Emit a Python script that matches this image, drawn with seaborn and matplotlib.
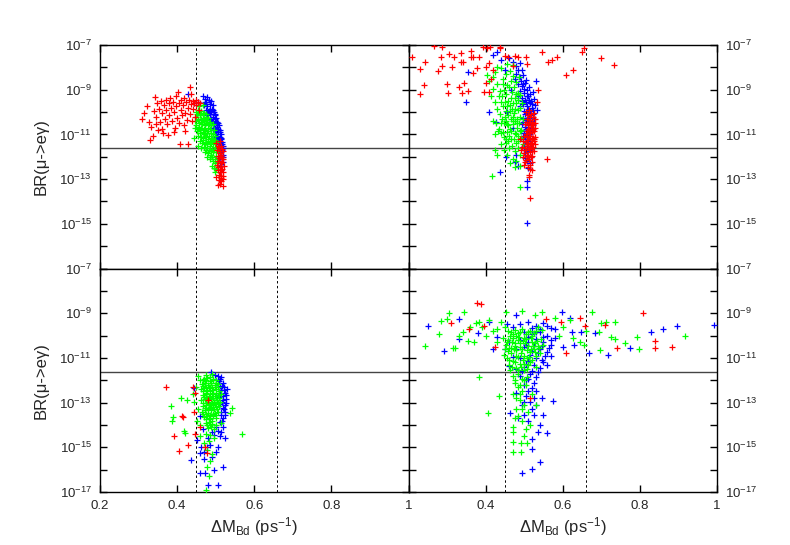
import matplotlib
matplotlib.use('Agg')
import matplotlib.pyplot as plt
import seaborn as sns
import numpy as np
import pandas as pd

sns.set_style('ticks')
plt.rcParams['font.family'] = ['Liberation Sans', 'DejaVu Sans']
plt.rcParams['mathtext.fontset'] = 'custom'
plt.rcParams['mathtext.rm'] = 'Liberation Sans'
plt.rcParams['mathtext.it'] = 'Liberation Sans:italic'

# points are (Delta M_Bd, log10 BR)
tl_blue = [(0.429,-9.2),(0.468,-9.29),(0.477,-9.32),(0.473,-9.54),(0.482,-9.45),(0.445,-9.6),(0.455,-9.55),(0.470,-9.7),(0.478,-9.75),(0.486,-9.65),
           (0.474,-9.9),(0.482,-9.95),(0.490,-9.85),(0.496,-10.0),(0.478,-10.15),(0.486,-10.1),(0.493,-10.2),(0.499,-10.15),(0.484,-10.35),(0.491,-10.4),
           (0.498,-10.3),(0.504,-10.45),(0.489,-10.6),(0.496,-10.55),(0.503,-10.65),(0.508,-10.6),(0.494,-10.8),(0.500,-10.85),(0.506,-10.75),(0.511,-10.9),
           (0.498,-11.0),(0.504,-11.05),(0.510,-11.1),(0.514,-11.0),(0.502,-11.25),(0.508,-11.3),(0.513,-11.2),(0.517,-11.35),(0.505,-11.5),(0.511,-11.55),
           (0.516,-11.45),(0.519,-11.6),(0.508,-11.75),(0.514,-11.8),(0.518,-11.9),(0.511,-12.0),(0.516,-12.1),(0.519,-12.25),(0.512,-12.3),(0.480,-10.0),
           (0.488,-10.3),(0.492,-10.7),(0.497,-11.15),(0.501,-11.45),(0.476,-9.55),(0.492,-9.7),(0.514,-12.6),
           (0.484,-9.85),(0.494,-9.9),(0.488,-10.0),(0.497,-10.1),(0.502,-10.25),(0.494,-10.45),(0.500,-10.5),(0.506,-10.5),(0.498,-10.7),(0.505,-10.9),
           (0.512,-10.8),(0.502,-11.1),(0.507,-11.2),(0.515,-11.15),(0.506,-11.4),(0.512,-11.4),(0.518,-11.5),(0.510,-11.65),(0.516,-11.7),(0.513,-11.95),
           (0.520,-12.0),(0.515,-12.4),(0.487,-9.5),(0.472,-9.4)]
tl_green = [(0.448,-10.0),(0.455,-9.9),(0.462,-9.95),(0.470,-10.05),(0.450,-10.2),(0.458,-10.15),(0.466,-10.25),(0.474,-10.2),(0.447,-10.4),(0.453,-10.35),
            (0.461,-10.45),(0.469,-10.4),(0.477,-10.35),(0.484,-10.45),(0.450,-10.6),(0.457,-10.65),(0.464,-10.55),(0.471,-10.6),(0.479,-10.7),(0.487,-10.6),
            (0.452,-10.85),(0.459,-10.8),(0.466,-10.9),(0.473,-10.8),(0.481,-10.85),(0.489,-10.95),(0.495,-10.8),(0.455,-11.05),(0.462,-11.1),(0.469,-11.0),
            (0.476,-11.1),(0.483,-11.05),(0.491,-11.15),(0.498,-11.05),(0.460,-11.3),(0.467,-11.25),(0.474,-11.35),(0.481,-11.3),(0.488,-11.4),(0.495,-11.3),
            (0.502,-11.35),(0.470,-11.55),(0.477,-11.6),(0.484,-11.5),(0.491,-11.65),(0.498,-11.55),(0.504,-11.7),(0.480,-11.85),(0.487,-11.9),(0.494,-11.8),
            (0.500,-11.95),(0.486,-12.1),(0.492,-12.2),(0.498,-12.1),(0.503,-12.25),(0.490,-12.4),(0.496,-12.5),(0.501,-12.55),(0.455,-11.5),(0.463,-11.6),
            (0.472,-11.8),(0.478,-12.0),(0.446,-10.7),(0.444,-11.15),(0.457,-9.75),(0.466,-9.7),(0.493,-10.55),(0.499,-12.7),
            (0.451,-10.1),(0.459,-10.05),(0.467,-10.1),(0.475,-10.1),(0.454,-10.3),(0.462,-10.3),(0.470,-10.3),(0.480,-10.25),(0.456,-10.5),(0.464,-10.45),
            (0.474,-10.5),(0.482,-10.55),(0.455,-10.75),(0.462,-10.7),(0.470,-10.75),(0.477,-10.95),(0.485,-10.75),(0.458,-10.95),(0.466,-11.15),(0.473,-11.05),
            (0.480,-11.2),(0.487,-11.2),(0.494,-11.0),(0.464,-11.4),(0.471,-11.45),(0.478,-11.45),(0.485,-11.35),(0.492,-11.45),(0.499,-11.25),(0.474,-11.7),
            (0.482,-11.7),(0.489,-11.75),(0.496,-11.7),(0.484,-12.0),(0.491,-12.0),(0.497,-12.3),(0.502,-11.8)]
tl_red = [(0.308,-10.29),(0.315,-10.05),(0.322,-9.75),(0.328,-10.45),(0.33,-11.26),(0.333,-10.65),(0.338,-11.05),(0.340,-9.95),(0.343,-9.32),(0.345,-10.2),
          (0.348,-9.6),(0.350,-10.8),(0.352,-9.85),(0.355,-10.45),(0.358,-9.5),(0.360,-10.74),(0.362,-10.05),(0.365,-9.7),(0.368,-10.3),(0.370,-9.45),
          (0.372,-9.9),(0.375,-10.55),(0.377,-11.04),(0.378,-9.6),(0.380,-10.15),(0.382,-9.35),(0.385,-9.8),(0.387,-10.4),(0.390,-9.55),(0.392,-10.0),
          (0.394,-10.7),(0.396,-9.3),(0.398,-9.75),(0.400,-10.25),(0.403,-9.09),(0.404,-9.6),(0.406,-10.5),(0.408,-11.41),(0.409,-9.9),(0.411,-9.45),
          (0.413,-10.15),(0.415,-9.7),(0.417,-10.6),(0.419,-9.35),(0.421,-10.05),(0.423,-9.55),(0.425,-10.35),(0.428,-11.41),(0.429,-9.8),(0.431,-9.45),
          (0.433,-10.1),(0.434,-8.87),(0.435,-9.65),(0.437,-9.2),(0.438,-10.4),(0.440,-9.5),(0.442,-9.85),(0.444,-9.6),(0.446,-10.2),(0.448,-9.45),
          (0.450,-9.7),(0.453,-9.55),(0.456,-9.9),(0.46,-9.6),(0.364,-10.95),(0.392,-10.9),(0.42,-10.85),(0.345,-10.55),
          (0.500,-11.4),(0.503,-11.7),(0.505,-11.95),(0.507,-12.2),(0.509,-11.55),(0.510,-12.45),(0.511,-12.7),(0.512,-11.85),(0.513,-12.95),(0.514,-12.3),
          (0.515,-13.1),(0.516,-12.55),(0.517,-11.65),(0.518,-12.85),(0.519,-12.1),(0.52,-13.3),(0.505,-12.6),(0.508,-13.05),(0.502,-12.9),(0.512,-13.2),
          (0.516,-12.0),(0.521,-12.4),(0.504,-12.35),(0.514,-11.5),(0.51,-11.3),(0.52,-11.75),(0.506,-13.25),(0.518,-13.0),
          (0.506,-11.5),(0.511,-11.75),(0.515,-11.9),(0.509,-12.05),(0.517,-12.25),(0.506,-12.45),(0.513,-12.6),(0.519,-12.7),(0.509,-12.8),(0.515,-12.85),
          (0.512,-13.05)]

tr_blue = [(0.47,-7.75),(0.48,-7.95),(0.49,-7.8),(0.495,-8.1),(0.478,-8.3),(0.488,-8.45),(0.498,-8.35),(0.505,-8.55),(0.485,-8.75),(0.495,-8.85),
           (0.503,-8.7),(0.512,-8.9),(0.49,-9.05),(0.5,-9.15),(0.508,-9.0),(0.515,-9.2),(0.522,-9.1),(0.495,-9.35),(0.503,-9.45),(0.511,-9.3),
           (0.518,-9.5),(0.525,-9.4),(0.498,-9.65),(0.506,-9.75),(0.514,-9.6),(0.521,-9.8),(0.527,-9.7),(0.5,-9.95),(0.508,-10.05),(0.516,-9.95),
           (0.523,-10.1),(0.497,-10.25),(0.505,-10.35),(0.513,-10.25),(0.52,-10.4),(0.495,-10.55),(0.502,-10.65),(0.51,-10.55),(0.517,-10.7),(0.493,-10.85),
           (0.5,-10.95),(0.507,-10.85),(0.514,-11.0),(0.496,-11.2),(0.504,-11.3),(0.511,-11.2),(0.5,-11.5),(0.508,-11.6),(0.515,-11.5),(0.503,-11.85),
           (0.511,-11.95),(0.506,-12.2),(0.514,-12.3),(0.518,-12.0),(0.51,-12.5),
           (0.353,-8.2),(0.348,-9.55),(0.428,-10.46),(0.41,-10.0),(0.419,-7.45),(0.436,-12.7),(0.506,-14.97),(0.507,-13.35),(0.507,-13.1),(0.475,-12.23),
           (0.452,-12.03),(0.46,-7.6),(0.43,-7.3),(0.44,-7.65),(0.465,-9.0),(0.45,-8.1),(0.47,-10.7),(0.48,-11.9),(0.455,-10.0),(0.485,-12.4),
           (0.53,-8.6),(0.532,-9.9),
           (0.492,-8.6),(0.5,-8.95),(0.507,-9.3),(0.513,-9.45),(0.519,-9.65),(0.524,-9.9),(0.505,-9.55),(0.51,-9.85),(0.518,-10.15),(0.525,-10.3),
           (0.503,-10.1),(0.509,-10.4),(0.515,-10.5),(0.522,-10.6),(0.498,-10.45),(0.505,-10.75),(0.511,-10.95),(0.518,-10.9),(0.497,-11.05),(0.503,-11.1),
           (0.508,-11.4),(0.516,-11.3),(0.5,-11.7),(0.507,-11.75),(0.514,-11.7),(0.502,-12.05),(0.495,-9.5),(0.49,-9.75),(0.485,-9.3),(0.497,-8.75),
           (0.485,-8.1),(0.475,-8.5)]
tr_green = [(0.403,-8.35),(0.41,-8.6),(0.418,-8.95),(0.425,-8.2),(0.43,-8.75),(0.435,-9.3),(0.44,-8.05),(0.445,-8.5),(0.448,-9.0),(0.452,-8.3),
            (0.455,-8.8),(0.458,-9.5),(0.462,-8.15),(0.465,-8.6),(0.468,-9.1),(0.471,-8.4),(0.474,-8.9),(0.477,-9.35),(0.48,-8.65),(0.483,-9.15),
            (0.486,-8.45),(0.44,-9.55),(0.446,-9.75),(0.452,-9.95),(0.458,-10.15),(0.463,-9.7),(0.468,-9.85),(0.473,-10.05),(0.478,-9.6),(0.483,-9.9),
            (0.488,-10.2),(0.43,-9.85),(0.436,-10.1),(0.442,-10.3),(0.447,-10.5),(0.453,-10.4),(0.459,-10.6),(0.465,-10.3),(0.47,-10.55),(0.476,-10.4),
            (0.481,-10.7),(0.487,-10.5),(0.492,-10.8),(0.435,-10.75),(0.441,-10.95),(0.448,-11.1),(0.455,-10.9),(0.461,-11.05),(0.467,-10.85),(0.473,-11.2),
            (0.479,-11.0),(0.485,-11.3),(0.491,-11.15),(0.497,-11.45),(0.452,-11.4),(0.46,-11.6),(0.468,-11.5),(0.476,-11.75),(0.484,-11.6),(0.49,-11.9),
            (0.47,-12.1),(0.48,-12.2),(0.488,-12.4),(0.416,-12.87),(0.423,-11.7),(0.43,-11.93),(0.488,-13.35),(0.433,-10.86),(0.425,-9.55),(0.42,-10.4),
            (0.495,-9.6),(0.49,-9.25),(0.496,-10.3),(0.455,-7.85),(0.47,-7.9),
            (0.445,-8.75),(0.452,-9.2),(0.46,-8.9),(0.466,-9.35),(0.472,-9.6),(0.478,-9.2),(0.484,-9.45),(0.437,-9.05),(0.443,-9.3),(0.45,-9.55),
            (0.456,-9.75),(0.462,-9.95),(0.47,-10.2),(0.476,-9.85),(0.482,-10.3),(0.488,-9.8),(0.44,-10.5),(0.45,-10.2),(0.456,-10.55),(0.463,-10.75),
            (0.47,-10.4),(0.475,-10.95),(0.482,-10.5),(0.488,-10.85),(0.445,-10.9),(0.452,-11.2),(0.458,-11.3),(0.465,-11.2),(0.478,-11.4),(0.485,-11.05),
            (0.44,-11.45),(0.447,-11.7),(0.456,-11.9),(0.463,-12.3),(0.475,-12.45),(0.428,-10.5),(0.425,-11.0),(0.415,-9.3),(0.42,-8.45),(0.43,-8.0)]
tr_red = [(0.208,-7.55),(0.231,-8.08),(0.231,-9.17),(0.239,-8.8),(0.244,-7.77),(0.265,-7.03),(0.285,-7.52),(0.286,-7.1),(0.276,-8.15),(0.286,-7.94),
          (0.302,-9.14),(0.30,-8.75),(0.306,-7.4),(0.313,-7.99),(0.317,-7.55),(0.337,-7.34),(0.335,-7.75),(0.341,-7.75),(0.332,-8.89),(0.339,-9.14),
          (0.345,-8.69),(0.353,-9.05),(0.361,-7.26),(0.361,-7.52),(0.366,-7.55),(0.367,-8.26),(0.377,-8.04),(0.384,-7.53),(0.392,-7.1),(0.397,-9.09),
          (0.40,-8.71),(0.403,-7.12),(0.408,-9.1),(0.412,-7.07),(0.41,-7.79),(0.40,-7.97),(0.438,-7.09),(0.546,-7.32),(0.561,-7.77),(0.572,-7.67),
          (0.584,-7.54),(0.608,-8.35),(0.627,-8.13),(0.649,-7.33),(0.655,-7.15),(0.699,-7.6),(0.732,-7.91),(0.558,-12.11),(0.436,-7.15),(0.483,-7.52),
          (0.475,-7.5),(0.508,-7.85),(0.505,-7.55),(0.42,-8.1),(0.415,-8.5),(0.45,-7.5),(0.458,-7.55),(0.535,-9.02),(0.532,-9.56),(0.514,-13.86),
          (0.512,-12.83),(0.499,-12.38),(0.47,-7.95),
          (0.505,-10.0),(0.512,-9.9),(0.518,-10.1),(0.523,-10.2),(0.508,-10.3),(0.515,-10.35),(0.521,-10.45),(0.527,-10.3),(0.503,-10.55),(0.510,-10.6),
          (0.517,-10.65),(0.524,-10.55),(0.529,-10.7),(0.506,-10.85),(0.513,-10.8),(0.520,-10.9),(0.526,-10.85),(0.500,-11.05),(0.508,-11.1),(0.515,-11.05),
          (0.522,-11.15),(0.528,-11.1),(0.497,-11.3),(0.504,-11.35),(0.511,-11.25),(0.518,-11.4),(0.525,-11.3),(0.495,-11.55),(0.502,-11.6),(0.509,-11.5),
          (0.516,-11.65),(0.523,-11.55),(0.500,-11.85),(0.507,-11.9),(0.514,-11.8),(0.521,-11.95),(0.505,-12.15),(0.512,-12.1),(0.519,-12.25),(0.509,-12.45),
          (0.516,-12.55),(0.513,-12.9),(0.492,-11.7),(0.49,-11.2),(0.498,-12.0),(0.526,-11.75),
          (0.509,-10.15),(0.516,-10.2),(0.525,-10.05),(0.507,-10.45),(0.513,-10.5),(0.520,-10.6),(0.527,-10.5),(0.509,-10.75),(0.516,-10.95),(0.523,-10.75),
          (0.505,-11.0),(0.512,-11.05),(0.519,-11.2),(0.526,-11.2),(0.507,-11.45),(0.514,-11.45),(0.521,-11.45),(0.528,-11.45),(0.505,-11.7),(0.512,-11.6),
          (0.519,-11.75),(0.51,-11.95),(0.517,-12.0),(0.503,-12.25),(0.514,-12.35),(0.52,-12.6)]

bl_blue = [(0.505,-11.8),(0.512,-11.95),(0.518,-12.1),(0.522,-12.3),(0.515,-12.45),(0.524,-12.55),(0.519,-12.7),(0.526,-12.85),(0.516,-12.95),(0.523,-13.1),
           (0.518,-13.25),(0.525,-13.4),(0.514,-13.55),(0.52,-13.7),(0.51,-13.85),(0.528,-13.0),(0.53,-12.4),(0.487,-11.62),(0.498,-11.75),(0.51,-12.25),
           (0.52,-14.1),(0.505,-14.25),(0.49,-14.3),(0.51,-14.5),(0.525,-14.6),(0.451,-14.67),(0.458,-15.24),(0.436,-15.57),(0.473,-16.15),(0.506,-16.68),
           (0.48,-16.7),(0.518,-15.87),(0.47,-15.5),(0.49,-15.45),(0.5,-15.2),(0.462,-15.0),(0.485,-14.9),(0.505,-15.0),(0.495,-16.0),(0.46,-13.6),
           (0.445,-12.35),(0.468,-14.2),(0.478,-15.0),
           (0.509,-12.05),(0.516,-12.25),(0.521,-12.45),(0.512,-12.6),(0.52,-12.9),(0.512,-13.05),(0.521,-13.3),(0.513,-13.4),(0.517,-13.8),(0.524,-13.55),
           (0.508,-12.75),(0.527,-12.65),(0.515,-11.85),(0.5,-14.1),(0.495,-14.45),(0.48,-14.6),(0.515,-14.3),(0.47,-15.2),(0.46,-16.15)]
bl_green = [(0.47,-11.95),(0.478,-11.9),(0.486,-11.85),(0.494,-11.95),(0.502,-12.0),(0.465,-12.15),(0.473,-12.1),(0.481,-12.2),(0.489,-12.1),(0.497,-12.2),
            (0.505,-12.15),(0.462,-12.4),(0.47,-12.35),(0.478,-12.45),(0.486,-12.35),(0.494,-12.45),(0.502,-12.4),(0.509,-12.5),(0.466,-12.65),(0.474,-12.6),
            (0.482,-12.7),(0.49,-12.6),(0.498,-12.7),(0.506,-12.65),(0.513,-12.6),(0.463,-12.9),(0.471,-12.85),(0.479,-12.95),(0.487,-12.85),(0.495,-12.95),
            (0.503,-12.9),(0.511,-12.95),(0.468,-13.15),(0.476,-13.1),(0.484,-13.2),(0.492,-13.1),(0.5,-13.2),(0.508,-13.15),(0.465,-13.4),(0.473,-13.35),
            (0.481,-13.45),(0.489,-13.35),(0.497,-13.45),(0.505,-13.4),(0.47,-13.65),(0.478,-13.6),(0.486,-13.7),(0.494,-13.6),(0.502,-13.7),(0.475,-13.9),
            (0.483,-13.85),(0.491,-13.95),(0.48,-14.15),(0.488,-14.1),(0.496,-14.2),(0.476,-14.4),(0.486,-14.45),(0.482,-14.7),(0.478,-15.1),(0.49,-15.3),
            (0.485,-15.6),(0.478,-15.9),(0.483,-16.3),(0.475,-16.9),
            (0.384,-13.15),(0.386,-13.8),(0.39,-13.63),(0.41,-12.8),(0.418,-14.27),(0.42,-14.35),(0.426,-12.9),(0.44,-12.6),(0.445,-12.95),(0.45,-12.3),
            (0.455,-13.3),(0.458,-12.0),(0.452,-13.8),(0.46,-14.0),(0.568,-14.4),(0.542,-13.23),(0.536,-13.45),(0.455,-11.8),(0.475,-11.75),(0.49,-11.7),
            (0.46,-14.5),(0.47,-14.8),(0.495,-14.6),(0.5,-14.0),(0.515,-13.9),
            (0.468,-12.0),(0.476,-12.0),(0.484,-12.05),(0.492,-12.0),(0.5,-12.1),(0.467,-12.25),(0.475,-12.3),(0.483,-12.3),(0.491,-12.3),(0.499,-12.3),
            (0.507,-12.3),(0.468,-12.5),(0.476,-12.55),(0.484,-12.5),(0.492,-12.55),(0.5,-12.55),(0.469,-12.75),(0.477,-12.8),(0.485,-12.75),(0.493,-12.8),
            (0.501,-12.8),(0.509,-12.8),(0.466,-13.0),(0.474,-13.0),(0.482,-13.05),(0.49,-13.0),(0.498,-13.05),(0.506,-13.0),(0.471,-13.25),(0.479,-13.3),
            (0.487,-13.25),(0.495,-13.3),(0.503,-13.3),(0.468,-13.5),(0.476,-13.5),(0.484,-13.55),(0.492,-13.5),(0.5,-13.55),(0.474,-13.75),(0.482,-13.75),
            (0.49,-13.8),(0.478,-14.0),(0.486,-14.0)]
bl_red = [(0.371,-12.29),(0.441,-12.29),(0.414,-13.63),(0.393,-14.48),(0.427,-14.91),(0.405,-15.17),(0.447,-12.57),(0.447,-14.4),(0.477,-15.26),(0.472,-15.0),
          (0.445,-13.4),(0.412,-13.6),(0.46,-14.1),(0.48,-12.9)]

br_blue = [(0.25,-9.57),(0.292,-10.69),(0.332,-9.24),(0.331,-10.15),(0.43,-10.05),(0.48,-9.08),(0.599,-8.93),(0.618,-9.21),(0.623,-9.83),(0.648,-9.83),
           (0.683,-9.87),(0.668,-10.77),(0.718,-10.87),(0.774,-10.57),(0.829,-9.83),(0.859,-9.72),(0.897,-9.57),(0.993,-9.53),(0.462,-13.48),(0.5,-13.55),
           (0.525,-13.55),(0.55,-13.55),(0.536,-14.3),(0.519,-14.63),(0.558,-14.35),(0.521,-15.09),(0.54,-15.67),(0.519,-15.97),(0.494,-16.16),(0.575,-12.92),
           (0.48,-12.58),(0.41,-9.4),(0.38,-9.9),(0.42,-10.6),(0.6,-10.5),(0.58,-9.7),(0.57,-10.9),(0.56,-11.3),(0.63,-10.4),
           (0.47,-9.6),(0.49,-9.5),(0.51,-9.4),(0.53,-9.55),(0.55,-9.45),(0.57,-9.65),(0.5,-9.85),(0.52,-9.95),(0.54,-9.85),(0.56,-10.0),
           (0.58,-10.1),(0.49,-10.2),(0.51,-10.3),(0.53,-10.15),(0.55,-10.3),(0.57,-10.4),(0.48,-10.6),(0.5,-10.5),(0.52,-10.7),(0.54,-10.6),
           (0.56,-10.75),(0.47,-10.95),(0.49,-11.0),(0.51,-11.15),(0.53,-11.0),(0.55,-11.2),(0.46,-11.35),(0.48,-11.5),(0.5,-11.4),(0.52,-11.6),
           (0.54,-11.45),(0.49,-11.8),(0.51,-11.95),(0.53,-11.85),(0.5,-12.2),(0.52,-12.35),(0.505,-12.7),(0.515,-12.95),(0.53,-12.5),(0.495,-13.1),
           (0.52,-13.3),(0.545,-12.8),
           (0.52,-9.65),(0.54,-9.7),(0.56,-9.55),(0.51,-10.05),(0.53,-9.85),(0.55,-10.05),(0.57,-10.2),(0.505,-10.4),(0.525,-10.45),(0.545,-10.45),
           (0.565,-10.55),(0.515,-10.85),(0.535,-10.8),(0.555,-10.9),(0.505,-11.25),(0.525,-11.3),(0.545,-11.1),(0.495,-11.6),(0.515,-11.7),(0.535,-11.65),
           (0.505,-12.0),(0.525,-12.1),(0.51,-12.5),(0.525,-12.8),(0.5,-12.95),(0.53,-13.1),(0.51,-13.8),(0.54,-14.0),(0.485,-13.7),(0.45,-10.6),
           (0.455,-9.5),(0.46,-10.3)]
br_green = [(0.244,-10.47),(0.279,-9.94),(0.285,-9.33),(0.30,-9.27),(0.306,-8.99),(0.315,-10.57),(0.32,-10.57),(0.345,-8.93),(0.341,-9.83),(0.354,-10.24),
            (0.371,-10.27),(0.376,-9.45),(0.384,-9.38),(0.406,-13.48),(0.434,-12.7),(0.384,-11.87),(0.452,-8.93),(0.495,-8.89),(0.527,-9.08),(0.547,-8.96),
            (0.676,-8.96),(0.70,-9.45),(0.713,-9.38),(0.735,-9.38),(0.724,-10.08),(0.735,-10.15),(0.696,-10.65),(0.761,-10.35),(0.793,-10.05),(0.798,-10.62),
            (0.917,-10.02),(0.627,-10.13),(0.644,-10.28),(0.694,-9.83),(0.39,-9.6),(0.4,-10.0),(0.41,-9.3),(0.42,-9.8),(0.43,-10.3),(0.36,-9.6),
            (0.33,-10.0),(0.6,-9.6),(0.59,-10.0),(0.62,-9.3),(0.66,-9.8),(0.655,-10.4),(0.58,-9.2),
            (0.445,-10.1),(0.452,-10.4),(0.458,-10.7),(0.463,-10.0),(0.468,-10.3),(0.473,-10.6),(0.478,-10.9),(0.483,-10.2),(0.488,-10.5),(0.493,-10.8),
            (0.498,-11.1),(0.503,-10.35),(0.508,-10.65),(0.513,-10.95),(0.518,-10.1),(0.523,-10.45),(0.528,-10.75),(0.533,-10.25),(0.538,-10.55),(0.543,-10.15),
            (0.55,-10.4),(0.455,-11.0),(0.46,-11.3),(0.47,-11.15),(0.48,-11.45),(0.49,-11.25),(0.5,-11.55),(0.51,-11.3),(0.52,-11.1),(0.53,-11.4),
            (0.465,-9.85),(0.475,-9.75),(0.485,-9.9),(0.495,-9.7),(0.505,-9.95),(0.515,-9.8),(0.525,-9.9),(0.535,-9.6),(0.545,-9.75),(0.448,-10.85),
            (0.457,-10.2),(0.467,-10.55),(0.477,-10.45),(0.487,-10.05),(0.497,-10.25),(0.507,-11.0),(0.517,-10.6),(0.527,-10.35),(0.462,-11.55),(0.472,-11.8),
            (0.485,-11.7),(0.495,-11.95),
            (0.475,-12.1),(0.485,-12.3),(0.495,-12.5),(0.505,-12.2),(0.47,-12.6),(0.49,-12.9),(0.5,-13.1),(0.48,-13.3),(0.51,-13.4),(0.475,-13.7),
            (0.495,-13.8),(0.471,-14.08),(0.471,-14.75),(0.491,-14.82),(0.471,-15.2),(0.491,-15.2),(0.506,-14.79),(0.507,-11.87),(0.52,-12.6),(0.53,-13.1),
            (0.505,-14.2),(0.515,-14.0),
            (0.45,-10.6),(0.455,-10.3),(0.46,-10.55),(0.465,-10.8),(0.47,-10.1),(0.475,-10.35),(0.48,-10.65),(0.485,-10.95),(0.49,-10.35),(0.495,-10.6),
            (0.5,-10.9),(0.505,-10.15),(0.51,-10.45),(0.515,-10.75),(0.52,-10.3),(0.525,-10.6),(0.53,-10.9),(0.535,-10.45),(0.54,-10.8),(0.46,-11.1),
            (0.468,-11.4),(0.476,-11.2),(0.484,-11.55),(0.492,-11.4),(0.5,-11.25),(0.508,-11.5),(0.516,-11.2),(0.47,-9.95),(0.48,-10.0),(0.49,-9.85),
            (0.5,-10.1),(0.51,-9.85),(0.52,-10.0),(0.53,-9.8),(0.458,-9.8),(0.45,-9.6),(0.44,-9.4),(0.43,-9.7),(0.475,-12.0),(0.488,-12.2),
            (0.5,-12.0),(0.49,-12.6),(0.48,-12.8),(0.495,-13.3),(0.485,-13.6),(0.47,-14.3),(0.5,-14.5)]
br_red = [(0.378,-8.56),(0.387,-8.59),(0.358,-9.7),(0.395,-9.57),(0.808,-8.99),(0.839,-10.24),(0.839,-10.57),(0.882,-10.53),(0.74,-10.57),(0.709,-9.53),
          (0.657,-9.57),(0.644,-9.22),(0.596,-9.38),(0.556,-9.26),(0.423,-10.5),(0.609,-10.78),(0.514,-12.8),(0.31,-9.45)]

panels = [[(tl_blue, tl_green, tl_red), (tr_blue, tr_green, tr_red)],
          [(bl_blue, bl_green, bl_red), (br_blue, br_green, br_red)]]
colors = ['#0000ff', '#00ff00', '#ff0000']

x_ticks = [0.2, 0.4, 0.6, 0.8, 1.0]
x_ticklabels = ['0.2', '0.4', '0.6', '0.8', '1']
y_ticks = [1e-17, 1e-16, 1e-15, 1e-14, 1e-13, 1e-12, 1e-11, 1e-10, 1e-9, 1e-8, 1e-7]
y_ticklabels = ['$10^{-17}$', '', '$10^{-15}$', '', '$10^{-13}$', '', '$10^{-11}$', '', '$10^{-9}$', '', '$10^{-7}$']
dm_lines = [0.45, 0.66]
br_limit = 2.4e-12

fig, axes = plt.subplots(2, 2, figsize=(7.9, 5.45), dpi=100)
plt.subplots_adjust(left=0.1266, right=0.9076, bottom=0.0972, top=0.9174, hspace=0, wspace=0)

for i in range(2):
    for j in range(2):
        ax = axes[i][j]
        for pts, c in zip(panels[i][j], colors):
            df = pd.DataFrame(pts, columns=['dm', 'logbr'])
            df['br'] = 10.0 ** df['logbr']
            sns.scatterplot(data=df, x='dm', y='br', marker='+', color=c, s=24,
                            linewidth=0.9, ax=ax, zorder=3)
        ax.set_yscale('log')
        ax.set_xlim(0.2, 1.0)
        ax.set_ylim(1e-17, 1e-7)
        for xv in dm_lines:
            ax.axvline(xv, color='black', lw=0.7, ls=(0, (2.5, 2.5)), zorder=2)
        ax.axhline(br_limit, color='#444444', lw=1.0, zorder=2)
        ax.set_xticks(x_ticks)
        ax.set_yticks(y_ticks)
        ax.minorticks_off()
        ax.tick_params(direction='in', length=5, width=1, top=True, right=True,
                       labelsize=9.5, color='black', pad=6)
        ylab = list(y_ticklabels)
        if i == 0:
            ylab[0] = ''
        ax.set_yticklabels(ylab)
        if i == 1:
            xl = list(x_ticklabels)
            if j == 1:
                xl[0] = ''
            ax.set_xticklabels(xl)
            ax.set_xlabel(r'$\Delta$M$_{\rm Bd}$ (ps$^{-1}$)', fontsize=12, labelpad=2)
        else:
            ax.set_xticklabels([])
            ax.set_xlabel('')
        if j == 0:
            ax.set_ylabel('BR(\u03bc->e\u03b3)', fontsize=12, labelpad=8)
        else:
            ax.yaxis.tick_right()
            ax.tick_params(axis='y', left=True, right=True, labelleft=False, labelright=True)
            ax.set_ylabel('')
        for sp in ax.spines.values():
            sp.set_linewidth(1.0)
            sp.set_color('black')

plt.savefig('out.png', dpi=100)
